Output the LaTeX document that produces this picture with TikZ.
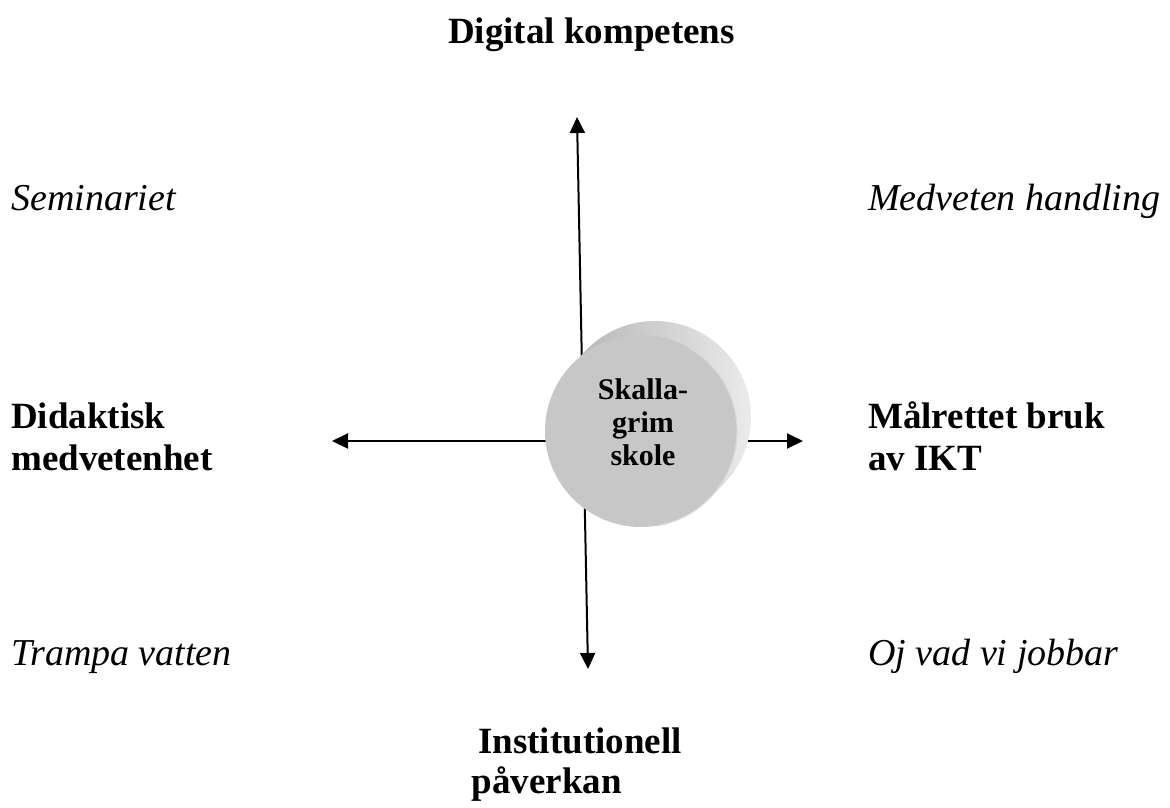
\documentclass[tikz,border=0pt]{standalone}
\usepackage{fontspec}
\setmainfont{Liberation Serif}
\usetikzlibrary{arrows.meta,calc}
\tikzset{
  axis/.style={line width=2pt, {Triangle[length=16pt,width=15pt]}-{Triangle[length=16pt,width=15pt]}},
  boldlbl/.style={font=\fontsize{37}{42}\selectfont\bfseries, inner sep=0pt, align=left},
  itlbl/.style={font=\fontsize{38}{44}\selectfont\itshape, inner sep=0pt},
}
\begin{document}
\begin{tikzpicture}[x=1pt,y=-1pt]
\useasboundingbox (0,0) rectangle (1170,807);
% axes
\coordinate (top) at (577,117);
\coordinate (bot) at (588,669);
\coordinate (lft) at (332,441);
\coordinate (rgt) at (803,441);
\draw[axis] (top) -- (bot);
\draw[axis] (lft) -- (rgt);
% cylinder
\def\r{96}
\coordinate (fc) at (641,431);
\coordinate (bc) at (655,417);
\shade[left color=black!30, right color=black!8]
  (bc) circle[radius=\r];
\shade[left color=black!30, right color=black!8]
  ($(fc)+(135:\r)$) -- ($(bc)+(135:\r)$) -- ($(bc)+(-45:\r)$) -- ($(fc)+(-45:\r)$) -- cycle;
\fill[black!22] (fc) circle[radius=\r];
\draw[white!85!black, line width=1.2pt] ($(fc)+(80:\r)$) arc[start angle=80, end angle=-60, radius=\r];
\node[font=\fontsize{30}{33}\selectfont\bfseries, align=center, inner sep=0pt] (cyl) at (643,422) {Skalla-\\grim\\skole};
% labels
\node[boldlbl, anchor=base east] (dk) at (735,43) {Digital kompetens};
\node[itlbl, anchor=base west] (sem) at (11,210) {Seminariet};
\node[itlbl, anchor=base west] (mh) at (868,210) {Medveten handling};
\node[boldlbl, anchor=base west] (dm) at (11,470) {Didaktisk\\medvetenhet};
\node[boldlbl, anchor=base west] (mb) at (868,470) {Målrettet bruk\\av IKT};
\node[itlbl, anchor=base west] (tv) at (11,665) {Trampa vatten};
\node[itlbl, anchor=base west] (oj) at (868,665) {Oj vad vi jobbar};
\node[boldlbl, anchor=base east] (inst) at (682,753) {Institutionell};
\node[boldlbl, anchor=base east] (pav) at (622,793) {påverkan};
\end{tikzpicture}
\end{document}
